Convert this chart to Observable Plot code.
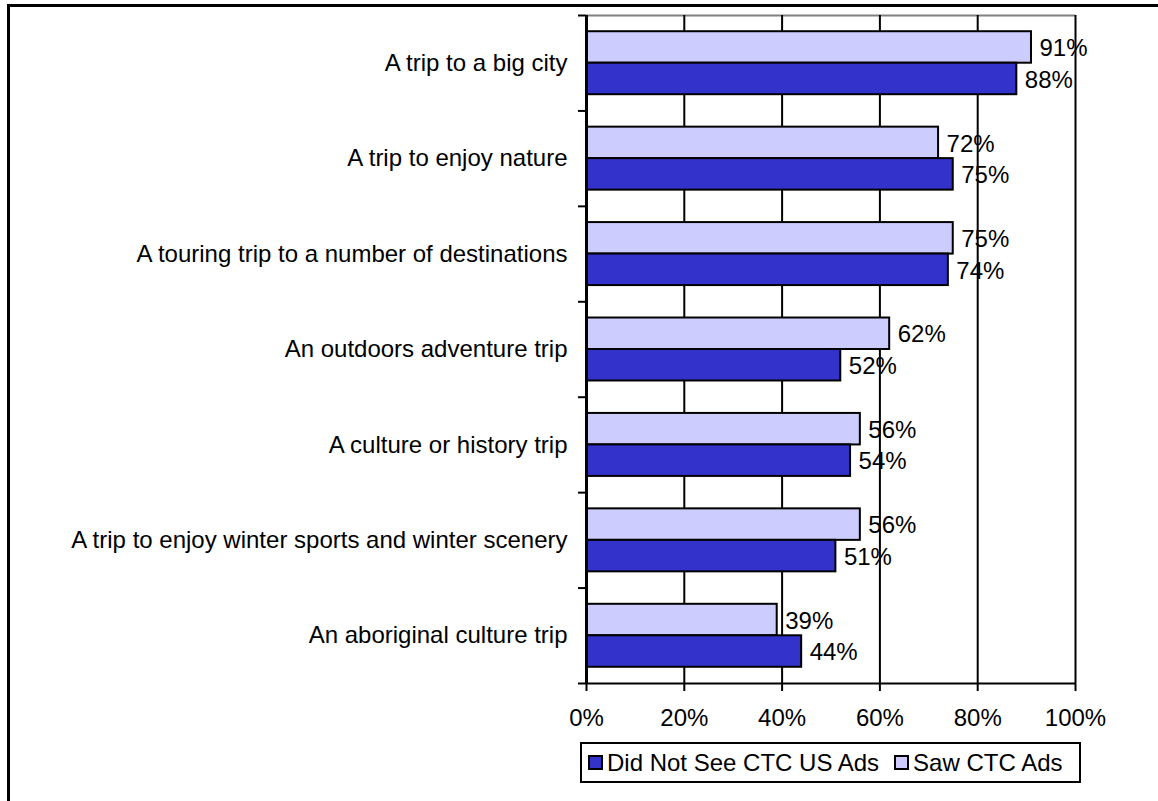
<!DOCTYPE html>
<html>
<head>
<meta charset="utf-8">
<script src="https://cdn.jsdelivr.net/npm/d3@7"></script>
<script src="https://cdn.jsdelivr.net/npm/@observablehq/plot@0.6"></script>
<style>
  html, body { margin: 0; padding: 0; background: #fff; overflow: hidden; }
  body { width: 1158px; height: 801px; position: relative; font-family: "Liberation Sans", Arial, sans-serif; }
  #frame { position: absolute; left: 7px; top: 4px; width: 1300px; height: 1000px; border-left: 3px solid #000; border-top: 3px solid #000; box-sizing: border-box; }
  #chart { position: absolute; left: 0; top: 0; }
  #legend { position: absolute; left: 580px; top: 742px; width: 501px; height: 41px; box-sizing: border-box; border: 2px solid #000; background: #fff; display: flex; align-items: center; font-size: 24px; color: #000; white-space: nowrap; }
  .item { display: flex; align-items: center; margin-left: 6px; }
  .item + .item { margin-left: 15px; }
  .sw { width: 11px; height: 11px; border: 2px solid #000; margin-right: 4px; }
</style>
</head>
<body>
<div id="frame"></div>
<div id="chart"></div>
<div id="legend"></div>
<script>
const categories = [
  "A trip to a big city",
  "A trip to enjoy nature",
  "A touring trip to a number of destinations",
  "An outdoors adventure trip",
  "A culture or history trip",
  "A trip to enjoy winter sports and winter scenery",
  "An aboriginal culture trip"
];
const sawAds = [91, 72, 75, 62, 56, 56, 39];
const didNotSee = [88, 75, 74, 52, 54, 51, 44];
const seriesNames = ["Did Not See CTC US Ads", "Saw CTC Ads"];
const seriesColors = ["#3333CC", "#CCCCFF"];
const xTicks = [0, 20, 40, 60, 80, 100];

const rows = categories.flatMap((c, i) => [
  {cat: c, series: seriesNames[1], value: sawAds[i], y1: i + 0.17, y2: i + 0.5},
  {cat: c, series: seriesNames[0], value: didNotSee[i], y1: i + 0.5, y2: i + 0.83}
]);

const chart = Plot.plot({
  width: 1158,
  height: 740,
  marginLeft: 586,
  marginRight: 83,
  marginTop: 15,
  marginBottom: 57,
  style: {fontFamily: "'Liberation Sans', Arial, sans-serif", fontSize: "24px", background: "transparent", color: "#000", overflow: "visible"},
  x: {domain: [0, 100]},
  y: {domain: [0, 7], reverse: true},
  color: {domain: seriesNames, range: seriesColors},
  marks: [
    Plot.ruleY([0], {stroke: "#808080", strokeWidth: 2}),
    Plot.ruleX(xTicks.slice(1), {stroke: "#000", strokeWidth: 2}),
    Plot.rectX(rows, {x1: 0, x2: "value", y1: "y1", y2: "y2", fill: "series", stroke: "#000", strokeWidth: 2}),
    Plot.text(rows, {x: "value", y: d => (d.y1 + d.y2) / 2, text: d => d.value + "%", dx: 8, dy: 1, textAnchor: "start", fontSize: 24, fill: "#000"}),
    Plot.ruleX([0], {stroke: "#000", strokeWidth: 3}),
    Plot.ruleY([7], {stroke: "#000", strokeWidth: 2}),
    Plot.axisY(d3.range(8), {tickSize: 8, tickFormat: () => "", label: null, strokeWidth: 2, stroke: "#000"}),
    Plot.axisY(d3.range(7).map(i => i + 0.5), {tickSize: 0, tickPadding: 19, label: null, tickFormat: v => categories[Math.floor(v)], fontSize: 24, fill: "#000"}),
    Plot.axisX(xTicks, {tickSize: 8, tickPadding: 17, label: null, tickFormat: d => d + "%", strokeWidth: 2, stroke: "#000", fontSize: 24, fill: "#000"})
  ]
});
document.getElementById("chart").appendChild(chart);

const legend = document.getElementById("legend");
seriesNames.forEach((name, k) => {
  const item = document.createElement("div");
  item.className = "item";
  const sw = document.createElement("div");
  sw.className = "sw";
  sw.style.background = seriesColors[k];
  const label = document.createElement("span");
  label.textContent = name;
  item.appendChild(sw);
  item.appendChild(label);
  legend.appendChild(item);
});
</script>
</body>
</html>
